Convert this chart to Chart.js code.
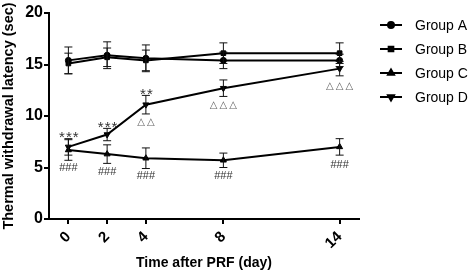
<!DOCTYPE html>
<html>
<head>
<meta charset="utf-8">
<script src="https://cdn.jsdelivr.net/npm/chart.js@4/dist/chart.umd.min.js"></script>
<style>
  html, body { margin: 0; padding: 0; background: #fff; }
  #wrap { width: 472px; height: 275px; }
</style>
</head>
<body>
<div id="wrap"><canvas id="latencyChart"></canvas></div>
<script>
const days = [0, 2, 4, 8, 14];
const groupNames = ["Group A", "Group B", "Group C", "Group D"];
const groupA = [15.4, 15.9, 15.6, 15.4, 15.4];
const groupB = [15.1, 15.7, 15.4, 16.1, 16.1];
const groupC = [6.7, 6.3, 5.9, 5.7, 7.0];
const groupD = [7.0, 8.2, 11.1, 12.7, 14.6];
const errA = [1.3, 1.3, 1.3, 0.8, 0.6];
const errB = [1.0, 0.9, 1.0, 1.0, 1.0];
const errC = [1.0, 0.9, 1.0, 0.7, 0.8];
const errD = [0.8, 0.6, 0.9, 0.8, 0.7];
const yTicks = [0, 5, 10, 15, 20];

// significance marks: [day, y value, text]
const starMarks = [[0, 8.3, "***"], [2, 9.2, "***"], [4, 12.4, "**"]];
const triMarks = [[4, 9.4, "△△"], [8, 11.0, "△△△"], [14, 12.9, "△△△"]];
const hashMarks = [[0, 4.95, "###"], [2, 4.55, "###"], [4, 4.2, "###"], [8, 4.2, "###"], [14, 5.25, "###"]];

const series = [groupA, groupB, groupC, groupD];
const errors = [errA, errB, errC, errD];
const markers = ["circle", "rect", "triangle", "triangle"];
const rotations = [0, 0, 0, 180];
const radii = [3, 3.3, 3.5, 3.5];

const toPoints = vals => vals.map((v, i) => ({ x: days[i], y: v }));

const extras = {
  id: "extras",
  afterDatasetsDraw(chart) {
    const ctx = chart.ctx;
    const xs = chart.scales.x, ys = chart.scales.y;
    ctx.save();
    // error bars
    ctx.strokeStyle = "#111";
    ctx.lineWidth = 1;
    series.forEach((vals, s) => {
      vals.forEach((v, i) => {
        const px = xs.getPixelForValue(days[i]);
        const top = ys.getPixelForValue(v + errors[s][i]);
        const bot = ys.getPixelForValue(v - errors[s][i]);
        ctx.beginPath();
        ctx.moveTo(px, top); ctx.lineTo(px, bot);
        ctx.moveTo(px - 4, top); ctx.lineTo(px + 4, top);
        ctx.moveTo(px - 4, bot); ctx.lineTo(px + 4, bot);
        ctx.stroke();
      });
    });
    ctx.textAlign = "center";
    ctx.textBaseline = "middle";
    ctx.fillStyle = "#333";
    ctx.letterSpacing = "1px";
    ctx.font = "15px 'Liberation Sans'";
    starMarks.forEach(m => ctx.fillText(m[2], xs.getPixelForValue(m[0]) + 1, ys.getPixelForValue(m[1]) + 4));
    ctx.fillStyle = "#666";
    ctx.letterSpacing = "2px";
    ctx.font = "10px 'DejaVu Sans'";
    triMarks.forEach(m => ctx.fillText(m[2], xs.getPixelForValue(m[0]) + 1, ys.getPixelForValue(m[1])));
    ctx.fillStyle = "#333";
    ctx.letterSpacing = "0px";
    ctx.font = "11px 'Liberation Sans'";
    hashMarks.forEach(m => ctx.fillText(m[2], xs.getPixelForValue(m[0]), ys.getPixelForValue(m[1])));

    // legend
    const lx = 380, ly = [25, 49, 73, 97];
    groupNames.forEach((name, i) => {
      ctx.strokeStyle = "#000";
      ctx.lineWidth = 2;
      ctx.beginPath();
      ctx.moveTo(lx, ly[i]); ctx.lineTo(lx + 22, ly[i]);
      ctx.stroke();
      Chart.helpers.drawPoint(ctx, { pointStyle: markers[i], radius: radii[i], rotation: rotations[i], borderWidth: 1 }, lx + 11, ly[i]);
      ctx.fillStyle = "#000";
      ctx.fill();
      ctx.textAlign = "left";
      ctx.font = "14px 'Liberation Sans'";
      ctx.fillText(name, lx + 35, ly[i] + 1);
    });
    ctx.restore();
  }
};

new Chart(document.getElementById("latencyChart"), {
  type: "line",
  data: {
    datasets: series.map((vals, s) => ({
      label: groupNames[s],
      data: toPoints(vals),
      borderColor: "#000",
      backgroundColor: "#000",
      borderWidth: 2,
      pointStyle: markers[s],
      pointRotation: rotations[s],
      pointRadius: radii[s],
      pointBorderWidth: 1,
      tension: 0
    }))
  },
  options: {
    responsive: true,
    maintainAspectRatio: false,
    animation: false,
    layout: { padding: { top: 13, right: 113, left: 0, bottom: 0 } },
    plugins: { legend: { display: false }, tooltip: { enabled: false } },
    scales: {
      x: {
        type: "linear",
        min: -1,
        max: 15,
        afterBuildTicks(scale) { scale.ticks = days.map(d => ({ value: d })); },
        afterFit(scale) { scale.height = 56; },
        border: { color: "#000", width: 2 },
        grid: { drawOnChartArea: false, drawTicks: true, tickLength: 5, color: "#000", lineWidth: 2 },
        ticks: {
          color: "#000",
          minRotation: 45,
          maxRotation: 45,
          padding: 4,
          font: { family: "'Liberation Sans'", size: 15, weight: "bold" }
        },
        title: {
          display: true,
          text: "Time after PRF (day)",
          color: "#000",
          padding: { top: 0, bottom: 3 },
          font: { family: "'Liberation Sans'", size: 14, weight: "bold" }
        }
      },
      y: {
        min: 0,
        max: 20,
        afterBuildTicks(scale) { scale.ticks = yTicks.map(v => ({ value: v })); },
        afterFit(scale) { scale.width = 49; },
        border: { color: "#000", width: 2 },
        grid: { drawOnChartArea: false, drawTicks: true, tickLength: 5, color: "#000", lineWidth: 2 },
        ticks: {
          color: "#000",
          padding: 1,
          font: { family: "'Liberation Sans'", size: 16, weight: "bold" }
        },
        title: {
          display: true,
          text: "Thermal withdrawal latency (sec)",
          color: "#000",
          padding: { top: 0, bottom: 0 },
          font: { family: "'Liberation Sans'", size: 14.5, weight: "bold" }
        }
      }
    }
  },
  plugins: [extras]
});
</script>
</body>
</html>
